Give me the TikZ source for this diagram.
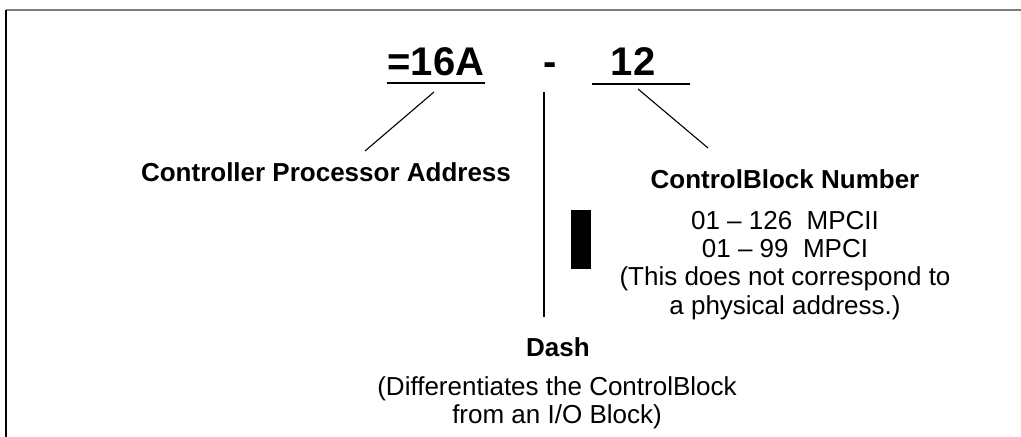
\documentclass[tikz,border=0pt]{standalone}
\usepackage{fontspec}
\setmainfont{Liberation Sans}
\usetikzlibrary{positioning}
\definecolor{FrameGray}{RGB}{125,125,125}
\tikzset{
  codetext/.style={font=\fontsize{20}{24}\selectfont\bfseries, inner sep=0pt, anchor=base},
  headtext/.style={font=\fontsize{13}{15}\selectfont\bfseries, inner sep=0pt, anchor=base},
  bodytext/.style={font=\fontsize{13}{14.1}\selectfont, inner sep=0pt, align=center, anchor=north},
  leader/.style={line width=0.55pt, black}
}

\begin{document}
\begin{tikzpicture}[x=0.5pt,y=-0.5pt]
  \useasboundingbox (0,0) rectangle (1021,437);
  % frame
  \draw[line width=0.8pt, FrameGray] (6,10) -- (1021,10);
  \draw[line width=0.8pt] (6,10) -- (6,437);

  % address code
  \node[codetext] (cpa) at (436,76) {=16A};
  \node[codetext] (dashsym) at (550,76) {-};
  \node[codetext] (cbn) at (633,76) {12};
  \coordinate (cpaleft) at (387,83);
  \coordinate (cparight) at (485,83);
  \coordinate (cbnleft) at (592,84);
  \coordinate (cbnright) at (690,84);
  \draw[leader] (cpaleft) -- (cparight);
  \draw[leader] (cbnleft) -- (cbnright);

  % labels
  \node[headtext] (cpalbl) at (326,182) {Controller Processor Address};
  \node[headtext] (cbnlbl) at (785,189) {ControlBlock Number};
  \node[bodytext] (cbnrange) at (785,211) {01 -- 126\ \ MPCII\\01 -- 99\ \ MPCI\\(This does not correspond to\\a physical address.)};
  \node[headtext] (dashlbl) at (558,357) {Dash};
  \node[bodytext] (dashnote) at (557,376) {(Differentiates the ControlBlock\\from an I/O Block)};

  % leader lines
  \coordinate (cpatip) at (434,92);
  \coordinate (cpaend) at (365,151);
  \coordinate (dashtip) at (544,92);
  \coordinate (dashend) at (544,317);
  \coordinate (cbntip) at (638,89);
  \coordinate (cbnend) at (708,148);
  \draw[leader] (cpatip) -- (cpaend);
  \draw[leader] (dashtip) -- (dashend);
  \draw[leader] (cbntip) -- (cbnend);

  % marker bar
  \fill[black] (571,210) rectangle (591,269);
\end{tikzpicture}
\end{document}
